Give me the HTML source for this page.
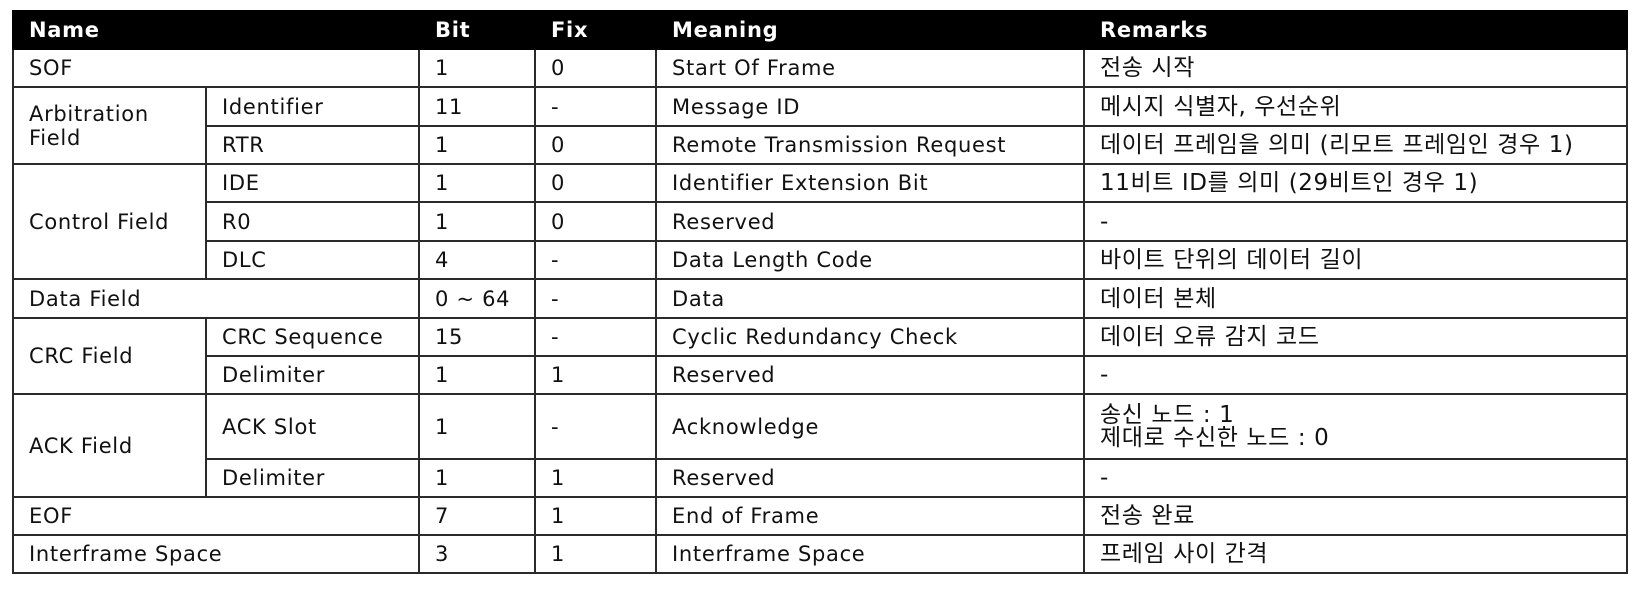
<!DOCTYPE html>
<html><head><meta charset="utf-8"><style>
html,body{margin:0;padding:0;background:#fff;width:1641px;height:589px;overflow:hidden}
table{position:absolute;left:12px;top:10px;border-collapse:collapse;table-layout:fixed;
font-family:"DejaVu Sans","Noto Sans CJK KR",sans-serif;font-size:21px;letter-spacing:0.7px;color:#111}
td,th{border:2px solid #2a2a2a;padding:0 0 0 15px;vertical-align:middle;white-space:nowrap;overflow:hidden;line-height:24px}
th{background:#000;color:#fff;text-align:left;font-weight:bold;height:36px;border-color:#000}
tr{height:38px}
td:last-child{font-size:23px;letter-spacing:0.6px}
</style></head><body>
<table>
<colgroup><col style="width:193px"><col style="width:213px"><col style="width:116px"><col style="width:121px"><col style="width:428px"><col style="width:543px"></colgroup>
<tr><th colspan="2">Name</th><th>Bit</th><th>Fix</th><th>Meaning</th><th>Remarks</th></tr>
<tr><td colspan="2">SOF</td><td>1</td><td>0</td><td>Start Of Frame</td><td>전송 시작</td></tr>
<tr style="height:39px"><td rowspan="2">Arbitration<br>Field</td><td>Identifier</td><td>11</td><td>-</td><td>Message ID</td><td>메시지 식별자, 우선순위</td></tr>
<tr><td>RTR</td><td>1</td><td>0</td><td>Remote Transmission Request</td><td>데이터 프레임을 의미 (리모트 프레임인 경우 1)</td></tr>
<tr><td rowspan="3">Control Field</td><td>IDE</td><td>1</td><td>0</td><td>Identifier Extension Bit</td><td>11비트 ID를 의미 (29비트인 경우 1)</td></tr>
<tr style="height:39px"><td>R0</td><td>1</td><td>0</td><td>Reserved</td><td>-</td></tr>
<tr><td>DLC</td><td>4</td><td>-</td><td>Data Length Code</td><td>바이트 단위의 데이터 길이</td></tr>
<tr style="height:39px"><td colspan="2">Data Field</td><td>0 ~ 64</td><td>-</td><td>Data</td><td>데이터 본체</td></tr>
<tr><td rowspan="2">CRC Field</td><td>CRC Sequence</td><td>15</td><td>-</td><td>Cyclic Redundancy Check</td><td>데이터 오류 감지 코드</td></tr>
<tr><td>Delimiter</td><td>1</td><td>1</td><td>Reserved</td><td>-</td></tr>
<tr style="height:65px"><td rowspan="2">ACK Field</td><td>ACK Slot</td><td>1</td><td>-</td><td>Acknowledge</td><td style="line-height:23px">송신 노드 : 1<br>제대로 수신한 노드 : 0</td></tr>
<tr><td>Delimiter</td><td>1</td><td>1</td><td>Reserved</td><td>-</td></tr>
<tr><td colspan="2">EOF</td><td>7</td><td>1</td><td>End of Frame</td><td>전송 완료</td></tr>
<tr><td colspan="2">Interframe Space</td><td>3</td><td>1</td><td>Interframe Space</td><td>프레임 사이 간격</td></tr>
</table>
</body></html>
